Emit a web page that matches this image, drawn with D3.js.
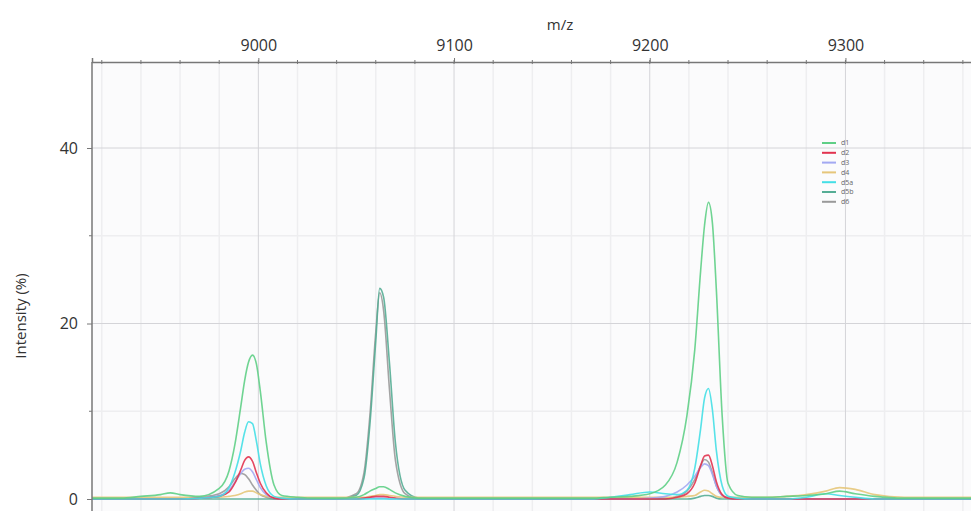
<!DOCTYPE html>
<html>
<head>
<meta charset="utf-8">
<script src="https://cdn.jsdelivr.net/npm/d3@7"></script>
<style>
  body { margin: 0; background: #fff; }
  text { font-family: "Open Sans", "DejaVu Sans", sans-serif; }
</style>
</head>
<body>
<div id="chart"></div>
<script>
var svgWidth = 971;
var svgHeight = 511;

// m/z sample positions (shared by all traces)
var mz = [8915, 8930, 8940, 8950, 8955, 8960, 8970, 8980, 8985, 8988,
    8991, 8993, 8995, 8997, 8999, 9001, 9004, 9008, 9012, 9020,
    9030, 9040, 9050, 9054, 9057, 9060, 9062, 9064, 9067, 9070,
    9075, 9082, 9090, 9100, 9110, 9120, 9130, 9140, 9150, 9160,
    9170, 9180, 9190, 9200, 9208, 9214, 9219, 9223, 9226, 9228,
    9230, 9232, 9234, 9237, 9240, 9245, 9252, 9260, 9270, 9280,
    9290, 9297, 9305, 9315, 9330, 9350, 9370];

// intensities (%)
var d1 = [0.1, 0.1, 0.3, 0.5, 0.7, 0.5, 0.3, 1.2, 3.2, 6.2,
    10.5, 13.5, 15.6, 16.4, 15.4, 12.3, 6.5, 1.6, 0.4, 0.2,
    0.1, 0.1, 0.2, 0.5, 0.9, 1.2, 1.4, 1.4, 1.1, 0.7,
    0.3, 0.1, 0.1, 0.1, 0.1, 0.1, 0.1, 0.1, 0.1, 0.1,
    0.1, 0.2, 0.3, 0.6, 1.6, 4.2, 9.5, 17, 26, 31.2,
    33.8, 31.5, 24, 9.5, 1.8, 0.4, 0.2, 0.2, 0.3, 0.4,
    0.6, 0.9, 0.6, 0.3, 0.1, 0.1, 0.1];
var d2 = [0, 0, 0, 0, 0, 0, 0.1, 0.3, 0.8, 1.8,
    3.3, 4.4, 4.8, 4.3, 3.0, 1.8, 0.7, 0.1, 0, 0,
    0, 0, 0, 0.1, 0.2, 0.3, 0.3, 0.3, 0.2, 0.1,
    0, 0, 0, 0, 0, 0, 0, 0, 0, 0,
    0, 0, 0, 0, 0, 0.2, 0.6, 1.8, 3.8, 4.9,
    5.0, 3.8, 2.0, 0.5, 0.1, 0, 0, 0, 0, 0,
    0, 0, 0, 0, 0, 0, 0];
var d3v = [0, 0, 0, 0, 0, 0, 0.1, 0.4, 1.0, 1.9,
    2.9, 3.4, 3.5, 3.1, 2.2, 1.3, 0.5, 0.1, 0, 0,
    0, 0, 0, 0, 0.1, 0.1, 0.1, 0.1, 0, 0,
    0, 0, 0, 0, 0, 0, 0, 0, 0, 0,
    0, 0, 0, 0.1, 0.3, 0.8, 1.6, 2.6, 3.6, 4.0,
    3.8, 2.8, 1.5, 0.4, 0.1, 0, 0, 0, 0, 0,
    0, 0, 0, 0, 0, 0, 0];
var d4 = [0.2, 0.2, 0.2, 0.2, 0.2, 0.2, 0.2, 0.2, 0.3, 0.4,
    0.6, 0.8, 0.9, 0.9, 0.7, 0.5, 0.3, 0.2, 0.2, 0.2,
    0.2, 0.2, 0.2, 0.2, 0.3, 0.4, 0.5, 0.5, 0.4, 0.3,
    0.2, 0.2, 0.2, 0.2, 0.2, 0.2, 0.2, 0.2, 0.2, 0.2,
    0.2, 0.2, 0.2, 0.2, 0.2, 0.2, 0.3, 0.4, 0.8, 1.0,
    0.9, 0.6, 0.3, 0.2, 0.2, 0.2, 0.2, 0.2, 0.3, 0.5,
    0.9, 1.3, 1.1, 0.5, 0.2, 0.2, 0.2];
var d5a = [0, 0, 0, 0, 0, 0, 0.1, 0.3, 1.3, 3.0,
    5.5, 7.6, 8.8, 8.6, 6.6, 4.0, 1.5, 0.3, 0.1, 0,
    0, 0, 0, 0, 0, 0, 0, 0, 0, 0,
    0, 0, 0, 0, 0, 0, 0, 0, 0, 0,
    0, 0.2, 0.5, 0.8, 0.6, 0.5, 1.0, 3.5, 8.0, 11.5,
    12.6, 10.2, 5.6, 1.5, 0.3, 0.1, 0, 0, 0, 0.2,
    0.6, 0.4, 0.2, 0, 0, 0, 0];
var d5b = [0, 0, 0, 0, 0, 0, 0, 0, 0, 0,
    0, 0, 0, 0, 0, 0, 0, 0, 0, 0,
    0, 0, 0.4, 2.4, 8.5, 18.0, 24.0, 23.0, 15.5, 6.5,
    1.0, 0.1, 0, 0, 0, 0, 0, 0, 0, 0,
    0, 0, 0, 0, 0, 0, 0, 0.1, 0.3, 0.4,
    0.4, 0.3, 0.1, 0, 0, 0, 0, 0, 0, 0,
    0, 0, 0, 0, 0, 0, 0];
var d6 = [0, 0, 0, 0, 0, 0, 0.2, 0.6, 1.4, 2.3,
    2.9, 2.8, 2.3, 1.6, 1.0, 0.5, 0.2, 0, 0, 0,
    0, 0, 0.6, 3.0, 9.5, 19.0, 23.5, 21.5, 12.5, 4.5,
    0.6, 0, 0, 0, 0, 0, 0, 0, 0, 0,
    0, 0, 0, 0, 0, 0.3, 0.9, 2.2, 3.8, 4.5,
    4.2, 3.0, 1.5, 0.4, 0.1, 0, 0, 0, 0, 0,
    0, 0, 0, 0, 0, 0, 0];

var seriesNames = ["d1", "d2", "d3", "d4", "d5a", "d5b", "d6"];
var seriesValues = [d1, d2, d3v, d4, d5a, d5b, d6];
var seriesColors = ["#5fcf86", "#e2334f", "#a3a9f2", "#e6c67a", "#44dfe6", "#55ad95", "#9a9a9a"];
var drawOrder = [6, 5, 3, 2, 1, 4, 0];

var xTicks = [9000, 9100, 9200, 9300];
var yTicks = [0, 20, 40];

var margin = { top: 62, left: 92 };

var svg = d3.select("#chart")
    .append("svg")
    .attr("width", svgWidth)
    .attr("height", svgHeight);

var x = d3.scaleLinear()
    .domain([8915, 9370])
    .range([margin.left, margin.left + 455 * 1.957]);

var y = d3.scaleLinear()
    .domain([0, 40])
    .range([499, 148]);

// plot background
svg.append("rect")
    .attr("x", margin.left)
    .attr("y", margin.top)
    .attr("width", svgWidth - margin.left)
    .attr("height", svgHeight - margin.top)
    .attr("fill", "#fbfbfc");

// minor grid
var grid = svg.append("g");
grid.selectAll(".vminor")
    .data(d3.range(8920, 9371, 20).filter(d => d % 100 !== 0))
    .enter().append("line")
    .attr("x1", d => x(d)).attr("x2", d => x(d))
    .attr("y1", margin.top).attr("y2", svgHeight)
    .attr("stroke", "#eeeef0").attr("stroke-width", 1.5);
grid.selectAll(".hminor")
    .data([10, 30])
    .enter().append("line")
    .attr("x1", margin.left).attr("x2", svgWidth)
    .attr("y1", d => y(d)).attr("y2", d => y(d))
    .attr("stroke", "#eeeef0").attr("stroke-width", 1.5);

// major grid
grid.selectAll(".vmajor")
    .data(xTicks)
    .enter().append("line")
    .attr("x1", d => x(d)).attr("x2", d => x(d))
    .attr("y1", margin.top).attr("y2", svgHeight)
    .attr("stroke", "#d4d4d8").attr("stroke-width", 1);
grid.selectAll(".hmajor")
    .data([20, 40])
    .enter().append("line")
    .attr("x1", margin.left).attr("x2", svgWidth)
    .attr("y1", d => y(d)).attr("y2", d => y(d))
    .attr("stroke", "#d4d4d8").attr("stroke-width", 1);

// traces
var line = d3.line()
    .x((d, i) => x(mz[i]))
    .y(d => y(d))
    .curve(d3.curveMonotoneX);

drawOrder.forEach(function (k) {
    svg.append("path")
        .datum(seriesValues[k])
        .attr("d", line)
        .attr("fill", "none")
        .attr("stroke", seriesColors[k])
        .attr("stroke-width", 1.6)
        .attr("stroke-opacity", 0.9);
});

// top axis
var topAxis = svg.append("g")
    .attr("transform", `translate(0, ${margin.top})`)
    .call(d3.axisTop(x).tickValues(xTicks).tickSize(4).tickFormat(d3.format("d")));
topAxis.append("g").selectAll("line")
    .data(d3.range(8920, 9371, 20))
    .enter().append("line")
    .attr("x1", d => x(d)).attr("x2", d => x(d))
    .attr("y1", -2).attr("y2", 2)
    .attr("stroke", "#777");
topAxis.select(".domain").attr("stroke", "#777").attr("stroke-width", 1.5);
topAxis.selectAll(".tick line").attr("stroke", "#777");
topAxis.selectAll(".tick text")
    .attr("font-size", "16px")
    .attr("fill", "#333")
    .attr("dy", "-4px");

// left axis
var leftAxis = svg.append("g")
    .attr("transform", `translate(${margin.left}, 0)`)
    .call(d3.axisLeft(y).tickValues(yTicks).tickSize(5));
leftAxis.append("g").selectAll("line")
    .data([10, 30])
    .enter().append("line")
    .attr("x1", -3).attr("x2", 0)
    .attr("y1", d => y(d)).attr("y2", d => y(d))
    .attr("stroke", "#777");
leftAxis.select(".domain").remove();
leftAxis.append("line")
    .attr("x1", 0).attr("x2", 0)
    .attr("y1", margin.top).attr("y2", svgHeight)
    .attr("stroke", "#777").attr("stroke-width", 1.5);
leftAxis.selectAll(".tick line").attr("stroke", "#777");
leftAxis.selectAll(".tick text")
    .attr("font-size", "16px")
    .attr("fill", "#333")
    .attr("x", -14);

// axis titles
svg.append("text")
    .attr("x", 560)
    .attr("y", 30)
    .attr("text-anchor", "middle")
    .attr("font-size", "15px")
    .attr("fill", "#333")
    .text("m/z");

svg.append("text")
    .attr("transform", "translate(26, 316) rotate(-90)")
    .attr("text-anchor", "middle")
    .attr("font-size", "15px")
    .attr("fill", "#333")
    .text("Intensity (%)");

// legend
var legend = svg.append("g")
    .attr("transform", "translate(822, 143)");
var items = legend.selectAll("g")
    .data(seriesNames)
    .enter().append("g")
    .attr("transform", (d, i) => `translate(0, ${i * 9.8})`);
items.append("line")
    .attr("x1", 0).attr("x2", 14)
    .attr("stroke", (d, i) => seriesColors[i])
    .attr("stroke-width", 2);
items.append("text")
    .attr("x", 19)
    .attr("dy", "0.35em")
    .attr("font-size", "7px")
    .attr("fill", "#666")
    .text(d => d);
</script>
</body>
</html>
